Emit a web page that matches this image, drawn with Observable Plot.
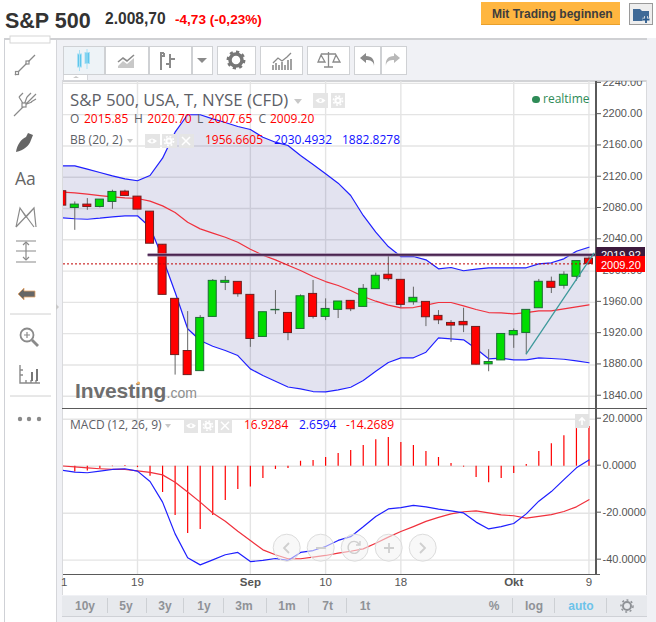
<!DOCTYPE html>
<html lang="de">
<head>
<meta charset="utf-8">
<title>S&amp;P 500</title>
<script src="https://cdn.jsdelivr.net/npm/d3@7"></script>
<script src="https://cdn.jsdelivr.net/npm/@observablehq/plot@0.6"></script>
<style>
html,body{margin:0;padding:0;background:#fff}
#root{position:relative;width:656px;height:622px;overflow:hidden;background:#fff;font-family:"Liberation Sans",Arial,sans-serif}
.abs,#root>div,#root>svg,#root>span{position:absolute}
.t{white-space:nowrap;line-height:1}
.os{font-family:"Open Sans",sans-serif}
.btn{background:#fff;border:1px solid #cfd1d4;box-sizing:border-box}
.box{background:#e5e5e5;width:14px;height:14px}
.bb{font-weight:bold;font-size:12px;color:#8f9297;transform:translateX(-50%);top:600px}
.sep{width:1px;height:15px;top:598px;background:#cdd0d4}
.plot{position:absolute;left:0}
</style>
</head>
<body>
<div id="root"></div>
<script>
// Day index: -1 is the partly hidden candle at the left edge, 41 is the last one
const days = d3.range(-1, 42);

const opens = [2102.1,2080.7,2085.0,2082.0,2088.4,2101.6,2095.2,2076.0,2033.7,1964.5,1897.8,1872.1,1941.4,1985.0,1986.2,1969.6,1915.8,1949.9,1946.5,1926.0,1970.8,1941.4,1950.4,1961.9,1954.2,1976.9,1995.3,1988.8,1960.2,1960.6,1942.7,1933.7,1935.0,1928.6,1880.7,1885.8,1917.9,1920.9,1952.5,1986.3,1981.2,1992.7,2015.85];
const closes = [2083.7,2085.0,2082.0,2091.4,2101.2,2096.1,2078.6,2035.0,1969.6,1892.6,1867.0,1940.1,1987.5,1987.5,1970.4,1913.2,1947.4,1950.4,1920.8,1967.8,1941.4,1951.6,1961.1,1951.2,1977.3,1994.0,1989.7,1956.8,1965.8,1941.0,1937.1,1930.3,1930.7,1880.3,1883.7,1919.6,1923.4,1950.4,1986.3,1978.6,1995.3,2012.8,2009.2];
const highs = [2102.1,2088.4,2092.7,2091.4,2103.4,2103.4,2095.2,2076.0,2033.7,1964.5,1948.2,1943.1,1989.2,1993.1,1986.2,1969.6,1947.4,1975.1,1946.5,1969.6,1988.0,1964.5,1961.1,1961.9,1982.8,1997.4,2020.0,1988.8,1979.4,1960.6,1949.5,1936.7,1952.5,1928.6,1899.5,1919.6,1926.0,1950.4,1989.3,1992.3,1999.1,2012.8,2020.7];
const lows = [2083.7,2052.1,2077.7,2080.7,2079.0,2095.8,2078.6,2035.0,1969.6,1867.0,1867.0,1872.1,1941.4,1975.1,1966.6,1902.5,1915.8,1944.4,1911.0,1926.0,1938.8,1936.7,1939.3,1948.2,1954.2,1976.9,1987.1,1952.8,1956.4,1929.0,1931.6,1908.9,1921.3,1879.8,1871.3,1885.8,1901.2,1893.1,1952.5,1971.3,1976.9,1987.1,2007.65];

const bbUpper = [2134.6,2134.6,2130.3,2126.1,2121.8,2118,2115.5,2122.2,2144.4,2177.6,2199.9,2199.9,2194.7,2190,2184.9,2181,2171.2,2164.8,2160.6,2147.8,2136.3,2124.4,2112.4,2096.7,2071.1,2049.7,2031.4,2018.6,2018.6,2014.4,2002.9,2004.6,2000.4,2002.4,2004.2,2004.2,2004.2,2004.2,2009.3,2010.6,2015.7,2025.4,2030.5];
const bbMiddle = [2100.9,2100,2098.3,2096.6,2094.9,2093.6,2092.8,2089.4,2083.4,2074.9,2062.5,2054,2048.5,2043.3,2036.9,2028,2020.3,2014.3,2007.5,2000.7,1993,1986.6,1981.6,1975.2,1967.5,1961.5,1956.4,1953,1953.4,1956.4,1959.8,1959.8,1955.6,1950.9,1947,1946.6,1945.3,1947,1949.2,1949.2,1951.7,1954.3,1956.7];
const bbLower = [2068.1,2066.9,2066.3,2067.6,2069.4,2070.7,2070.7,2056.1,2017,1973,1926.2,1911.2,1903.9,1898.4,1892,1875,1866.5,1859.2,1851.8,1849.5,1846,1845.6,1848.2,1851.5,1860.1,1872,1883.1,1889.1,1889.1,1896.3,1914.7,1913.4,1912.1,1900.6,1887.8,1888.6,1886.5,1886.5,1889.1,1888.2,1887.3,1885.3,1882.8];

const macdLine = [-1.7,-2.5,-2.8,-2.1,-1.4,-1.1,-2.1,-6.5,-15.3,-28.8,-39,-42,-39.9,-37.7,-36.7,-40.6,-40.1,-39.3,-40.1,-36.7,-35.9,-34.2,-31.6,-30,-25.8,-21.4,-18.2,-17.6,-16.7,-17.3,-18.3,-19,-19.9,-23.8,-26.7,-25.7,-24.4,-20.3,-14.9,-10.8,-5.7,-0.7,2.66];
const macdSignal = [0.1,-0.3,-0.7,-1.1,-1.4,-1.4,-2,-2.6,-3.7,-6.8,-11,-15.3,-19.9,-23.4,-27.7,-31.6,-35.6,-37.7,-39.4,-39.4,-38.7,-38,-37,-36.2,-35.2,-32.8,-30.2,-27.8,-25.7,-23.5,-21.8,-20.3,-19.4,-19,-19.9,-20.7,-21.1,-22.1,-21.4,-20.6,-19.3,-17.3,-14.27];
const macdHist = [null,-2.5,-2.1,-1.1,-0.2,0.3,-0.6,-4.3,-11.2,-21,-28.7,-27,-21,-14.6,-9.9,-8.9,-5.2,-1.4,-1,2.1,2.4,3.7,5.4,6.7,8.8,11.3,12.2,10.1,8.8,6.2,3.7,1.1,-0.4,-4.8,-7,-5.2,-3.1,0.7,6.2,9.6,13,16,16.93];

const priceTicks = [2240,2200,2160,2120,2080,2040,2000,1960,1920,1880,1840];
const macdTicks = [20,0,-20,-40];
const gridDays = [5,14,20,26,35,41];
const dateTicks = [-0.85,5,20,26,41];
const dateLabels = ["1","19","10","18","9"];
const monthTicks = [14,35];
const monthLabels = ["Sep","Okt"];
const resistance = 2020.7, lastPrice = 2009.2;
const resistanceSpan = [5.85,41.6];
const trendDays = [36,41.4], trendPrices = [1894.2,2022.9];
const xDomain = [-0.9,41.6];

const candles = days.map((d,k)=>({i:d,o:opens[k],c:closes[k],h:highs[k],l:lows[k]}));
const up = candles.filter(d=>d.c>=d.o), down = candles.filter(d=>d.c<d.o);
const bands = days.map((d,k)=>({i:d,u:bbUpper[k],m:bbMiddle[k],l:bbLower[k]}));
const macd = days.map((d,k)=>({i:d,m:macdLine[k],s:macdSignal[k],h:macdHist[k]}));

const root = document.getElementById("root");
function add(html){root.insertAdjacentHTML("beforeend",html);}
function div(x,y,w,h,bg,extra=""){add(`<div style="left:${x}px;top:${y}px;width:${w}px;height:${h}px;background:${bg};${extra}"></div>`);}
function txt(x,y,s,style,cls=""){add(`<span class="t ${cls}" style="left:${x}px;top:${y}px;${style}">${s}</span>`);}

// Page frame
div(4,38,652,584,"#f0f1f5");
div(4,38,643,2,"#cfd0d3");
div(4,40,1,582,"#cfd1d6");
div(5,40,52,582,"#fff");
div(56,40,1,582,"#d5d6da");
div(62,80,585,515,"#fff");
div(62,80,585,2,"#d2d3d6");
div(62,80,1,515,"#d9dadd");
div(646,80,1,515,"#d9dadd");

const baseStyle = {fontFamily:"'Liberation Sans',Arial,sans-serif",background:"transparent",color:"#555",overflow:"hidden"};
const gridColor = "#e4e4e4";

// Price pane
const main = Plot.plot({
  width:656,height:327,marginTop:0,marginBottom:0,marginLeft:63,marginRight:60,
  style:baseStyle,
  x:{domain:xDomain,axis:null},
  y:{domain:[1824.3,2242.4],axis:null},
  marks:[
    Plot.ruleY(priceTicks,{stroke:gridColor,strokeWidth:1.4}),
    Plot.ruleX(gridDays,{stroke:gridColor,strokeWidth:1.4}),
    Plot.areaY(bands,{x:"i",y1:"l",y2:"u",fill:"#3c3c96",fillOpacity:0.14,clip:true}),
    Plot.line(bands,{x:"i",y:"u",stroke:"#1f1fff",strokeWidth:1.2,clip:true}),
    Plot.line(bands,{x:"i",y:"l",stroke:"#1f1fff",strokeWidth:1.2,clip:true}),
    Plot.line(bands,{x:"i",y:"m",stroke:"#f0303c",strokeWidth:1.2,clip:true}),
    Plot.ruleX(candles,{x:"i",y1:"l",y2:"h",stroke:"#666",strokeWidth:1,clip:true}),
    Plot.rect(up,{x1:d=>d.i-0.32,x2:d=>d.i+0.32,y1:"o",y2:"c",fill:"#00dd00",stroke:"#1d6b35",strokeWidth:1,clip:true}),
    Plot.rect(down,{x1:d=>d.i-0.32,x2:d=>d.i+0.32,y1:"o",y2:"c",fill:"#ff0000",stroke:"#6e1f1f",strokeWidth:1,clip:true}),
    Plot.ruleY([lastPrice],{stroke:"#c00000",strokeWidth:1,strokeDasharray:"2,2"}),
    Plot.ruleY([resistance],{x1:resistanceSpan[0],x2:resistanceSpan[1],stroke:"#a08aa8",strokeWidth:3.2}),
    Plot.ruleY([resistance],{x1:resistanceSpan[0],x2:resistanceSpan[1],stroke:"#4a2450",strokeWidth:1.6}),
    Plot.line(trendDays.map((d,k)=>({i:d,p:trendPrices[k]})),{x:"i",y:"p",stroke:"#3f9a9c",strokeWidth:1.3}),
    Plot.axisY(priceTicks,{anchor:"right",label:null,tickSize:4,tickPadding:2,fontSize:11,tickFormat:d=>d.toFixed(2),dy:-1,textAnchor:"start"})
  ]
});
main.style.cssText += ";position:absolute;left:0;top:81px;";
root.appendChild(main);

// MACD pane
const lower = Plot.plot({
  width:656,height:187,marginTop:0,marginBottom:21,marginLeft:63,marginRight:60,
  style:baseStyle,
  x:{domain:xDomain,axis:null},
  y:{domain:[-46.1,24.55],axis:null},
  marks:[
    Plot.ruleY(macdTicks,{stroke:gridColor,strokeWidth:1.4}),
    Plot.ruleX(gridDays,{stroke:gridColor,strokeWidth:1.4}),
    Plot.ruleX(macd.filter(d=>d.h!==null),{x:"i",y1:0,y2:"h",stroke:"#ff0000",strokeWidth:1.2}),
    Plot.line(macd,{x:"i",y:"s",stroke:"#f0303c",strokeWidth:1.2,clip:true}),
    Plot.line(macd,{x:"i",y:"m",stroke:"#1f1fff",strokeWidth:1.2,clip:true}),
    Plot.axisY(macdTicks,{anchor:"right",label:null,tickSize:4,tickPadding:2,fontSize:11,tickFormat:d=>d.toFixed(4),dy:-1,textAnchor:"start"}),
    Plot.axisX(dateTicks,{anchor:"bottom",label:null,tickSize:0,tickPadding:3,fontSize:11.5,tickFormat:(d,k)=>dateLabels[dateTicks.indexOf(d)]}),
    Plot.axisX(monthTicks,{anchor:"bottom",label:null,tickSize:0,tickPadding:3,fontSize:11.5,fontWeight:"bold",tickFormat:(d,k)=>monthLabels[monthTicks.indexOf(d)]})
  ]
});
lower.style.cssText += ";position:absolute;left:0;top:408px;";
root.appendChild(lower);

// Pane borders
div(62,407.5,585,1.5,"#5a5a5a");
div(63,573.5,537,1.5,"#5a5a5a");
div(595,81,1.5,493,"#5a5a5a");

// Header
txt(5,9,"S&amp;P 500","font:bold 21.5px 'Liberation Sans';color:#333;");
txt(105,10,"2.008,70","font:bold 15.6px 'Liberation Sans';color:#333;");
txt(175,12,"-4,73 (-0,23%)","font:bold 13.6px 'Liberation Sans';color:#ff0000;");
div(481,2,139,23,"#ffb640","border-bottom:1px solid #e8a02c;box-sizing:border-box;");
txt(492,7,"Mit Trading beginnen","font:bold 12px 'Liberation Sans';color:#3d3d3d;");
div(629,3,24,22,"#eeeeee","border:1px solid #9a9a9a;box-sizing:border-box;");

// Toolbar
[[62.5,42.5,"#eef3f7"],[105,43.5,"#fff"],[148.5,43,"#fff"],[191.5,21,"#fff"],[217,38.5,"#fff"],[260,42.5,"#fff"],[307,42.5,"#fff"],[354,26.5,"#fff"],[380.5,26,"#fff"]]
 .forEach(([x,w,bg])=>add(`<div class="btn" style="left:${x}px;top:45.5px;width:${w}px;height:29px;background:${bg}"></div>`));
div(63,75,25,6,"#fff","border:1px solid #d5d6da;box-sizing:border-box;border-top:none;");

// Legends
txt(70,92,"S&amp;P 500, USA, T, NYSE (CFD)","font-size:16.8px;color:#5d6066;","os");
add(`<div style="left:294px;top:99px;border:4px solid transparent;border-top:5px solid #c8c8c8;"></div>`);
div(313,93,15,15,"#e5e5e5");div(331,93,14,15,"#e5e5e5");
const ohlc=[[70,"O","#5d6066"],[84,"2015.85","#f00"],[134,"H","#5d6066"],[147.3,"2020.70","#f00"],[197,"L","#5d6066"],[208,"2007.65","#f00"],[258.5,"C","#5d6066"],[270,"2009.20","#f00"]];
ohlc.forEach(([x,s,c])=>txt(x,113,s,`font-size:12px;color:${c};`,"os"));
txt(70,134,"BB (20, 2)","font-size:12px;color:#5d6066;","os");
add(`<div style="left:127px;top:139px;border:3.5px solid transparent;border-top:4.5px solid #c8c8c8;"></div>`);
[145,162,179].forEach(x=>div(x,134,14.5,14,"#e5e5e5"));
txt(205,134,"1956.6605","font-size:12px;color:#f00;","os");
txt(274,134,"2030.4932","font-size:12px;color:#11f;","os");
txt(342,134,"1882.8278","font-size:12px;color:#11f;","os");
add(`<div style="left:532px;top:95.5px;width:7.5px;height:7.5px;border-radius:50%;background:#2e8b57"></div>`);
txt(543,92.5,"realtime","font-size:12px;color:#2e8b57;","os");

txt(70,419,"MACD (12, 26, 9)","font-size:12px;color:#5d6066;","os");
add(`<div style="left:165px;top:424px;border:3.5px solid transparent;border-top:4.5px solid #c8c8c8;"></div>`);
[184,201,218].forEach(x=>div(x,419,14,13.5,"#e5e5e5"));
txt(244,419,"16.9284","font-size:12px;color:#f00;","os");
txt(299,419,"2.6594","font-size:12px;color:#11f;","os");
txt(346,419,"-14.2689","font-size:12px;color:#f00;","os");
div(575,414,14,14,"#e3e3e3");

// Price labels
add(`<div style="left:596px;top:246.5px;width:49px;height:10px;background:#3d1a3d;overflow:hidden"><span class="t" style="position:absolute;left:5px;top:2px;font:11px 'Liberation Sans';color:#fff">2019.92</span></div>`);
add(`<div style="left:596px;top:256px;width:49px;height:16px;background:#ff0000;overflow:hidden"><span class="t" style="position:absolute;left:5px;top:2.5px;font:11px 'Liberation Sans';color:#fff">2009.20</span></div>`);

// Watermark
txt(75,379,"Investing","font:bold 21px 'Liberation Sans';color:#6e6e6e;letter-spacing:-0.1px;");
txt(166.5,385,".com","font:14px 'Liberation Sans';color:#8e8e8e;");

// Bottom bar
div(62,595.5,585,21.5,"#e7e9ed","border-bottom:1px solid #cfd1d6;box-sizing:border-box;");
[["10y",85],["5y",126],["3y",165],["1y",204],["3m",244],["1m",287],["7t",327.7],["1t",365],["%",494],["log",534]]
  .forEach(([s,x])=>txt(x,600,s,"","bb"));
txt(581,600,"auto","color:#6cc3ea;","bb");
[106.7,145.7,183.3,222.7,265.7,308.3,346,512,554,606].forEach(x=>add(`<div class="sep" style="left:${x}px"></div>`));

// Toolbar, sidebar and navigation glyphs
const g="#8a8a8a";
const eye=(x,y)=>`<path d="M${x-5} ${y}q5-5 10 0q-5 5-10 0z" fill="#fff"/><circle cx="${x}" cy="${y}" r="1.4" fill="#e5e5e5"/>`;
const cog=(x,y)=>`<circle cx="${x}" cy="${y}" r="2.6" fill="none" stroke="#fff" stroke-width="2"/><circle cx="${x}" cy="${y}" r="4.6" fill="none" stroke="#fff" stroke-width="1.6" stroke-dasharray="1.8 1.8"/>`;
const cross=(x,y)=>`<path d="M${x-4} ${y-4}l8 8M${x+4} ${y-4}l-8 8" stroke="#fff" stroke-width="1.5"/>`;
add(`<svg width="656" height="622" viewBox="0 0 656 622" style="left:0;top:0;pointer-events:none" font-family="Liberation Sans">
 ${eye(320.5,100.5)}${cog(338,100.5)}
 ${eye(152,141)}${cog(169,141)}${cross(186,141)}
 ${eye(191,425.7)}${cog(208,425.7)}${cross(225,425.7)}
 <circle cx="138.5" cy="383" r="1.6" fill="#f0b060"/>
 <g fill="#5fc6ec" stroke="#a9e0f4"><rect x="77.5" y="54" width="4" height="13"/><rect x="85" y="52.5" width="4.5" height="11"/></g>
 <path d="M79.5 50v21M87 49v20" stroke="#a9e0f4" fill="none"/>
 <path d="M118 66l5-5 4 3 7-6v10h-16z" fill="#c8c8c8"/><path d="M118 62l5-4 4 3 7-6" stroke="${g}" stroke-width="1.6" fill="none"/>
 <path d="M161 70v-14h3v-3M164 53h-3v6M170 54v14M170 59h5M170 64h-4" stroke="${g}" stroke-width="2" fill="none"/>
 <path d="M197 58l5 5 5-5z" fill="${g}"/>
 <circle cx="236" cy="60" r="6" fill="none" stroke="#777" stroke-width="3.5"/><circle cx="236" cy="60" r="8.2" fill="none" stroke="#777" stroke-width="2.5" stroke-dasharray="3.2 3.2"/>
 <path d="M273 70v-5M276 70v-7M279 70v-5M282 70v-8M285 70v-5M288 70v-10M291 70v-11" stroke="${g}" stroke-width="1.6"/><path d="M273 63l5-5 4 3 5-4 4-4" stroke="${g}" fill="none" stroke-width="1.3"/>
 <path d="M321 54h15M328.5 52v15M324 67h9M321 55l-3 7h7zM336 55l-3 7h7z" stroke="${g}" fill="none" stroke-width="1.3"/>
 <path d="M374 66c0-5-4-6-8-6v3l-6-5 6-5v3c6 0 9 4 8 10z" fill="${g}"/>
 <path d="M386 66c0-5 4-6 8-6v3l6-5-6-5v3c-6 0-9 4-8 10z" fill="#b8b8b8"/>
 <path d="M633 9h7l2 2h7v10h-16z" fill="#3f6a97"/><path d="M646 16v7M642.5 19.5h7" stroke="#eee" stroke-width="3.5"/><path d="M646 16v7M642.5 19.5h7" stroke="#2a5a8c" stroke-width="1.8"/>
 <rect x="10" y="36" width="40" height="7" fill="#fff" stroke="#d5d5d5"/>
 <g stroke="${g}" fill="none" stroke-width="1.2">
  <path d="M15 75l20-20" /><rect x="15.5" y="71.5" width="3" height="3" fill="#fff"/><rect x="26" y="61" width="3" height="3" fill="#fff"/>
  <path d="M14 116l22-22M24 105l-5-8M24 105l8-3M19 97l4-4M31 102l5-3M24 105l3-8M27 97l4-4"/><rect x="22" y="103" width="4" height="4" fill="#fff"/>
  <path d="M16 251h20M16 262h20M16 241h20M26 243v16"/><path d="M23 245l3-3 3 3M23 257l3 3 3-3"/>
  <path d="M16 227l4-19 6 9 8-9 2 19M20 208l14 19M34 208l-18 19"/>
  <circle cx="27" cy="335" r="6.5" stroke-width="1.8"/><path d="M32 340l6 6" stroke-width="2.8"/><path d="M24 335h6M27 332v6"/>
  <path d="M20 365v18h20M23 370h-3M23 375h-3M26 383v-3M31 383v-3M36 383v-3" stroke-width="1.4"/>
 </g>
 <path d="M16 152c1-7 5-13 10-15l2-4 5 2-2 5c-2 6-7 10-15 12z" fill="#666"/>
 <text x="15" y="185" font-size="17.5" fill="#666" font-family="Open Sans">Aa</text>
 <path d="M18 294l6-6v3h11v6H24v3z" fill="#666" stroke="#e6a76d" stroke-width="0.8"/>
 <path d="M10 314h41M10 396h41" stroke="#d0d0d0"/>
 <path d="M31 372h2v9h-2zM36 369h2v12h-2z" fill="#777"/>
 <circle cx="20" cy="419" r="2.2" fill="#8a8a8a"/><circle cx="29" cy="419" r="2.2" fill="#8a8a8a"/><circle cx="39" cy="419" r="2.2" fill="#8a8a8a"/>
 <path d="M582 425v-6M579 421l3-3 3 3" stroke="#fff" stroke-width="1.6" fill="none"/>
 <circle cx="627" cy="606" r="4" fill="none" stroke="#8f9297" stroke-width="2"/><circle cx="627" cy="606" r="6" fill="none" stroke="#8f9297" stroke-width="1.5" stroke-dasharray="2 2.5"/>
 <g stroke="#dcdcdc" fill="#f3f3f3" fill-opacity="0.55">
  <circle cx="286.7" cy="547.7" r="13.5"/><circle cx="320.7" cy="547.7" r="13.5"/><circle cx="354.7" cy="547.7" r="13.5"/><circle cx="388.7" cy="547.7" r="13.5"/><circle cx="422.7" cy="547.7" r="13.5"/>
 </g>
 <g stroke="#cfcfcf" stroke-width="1.8" fill="none">
  <path d="M289 543l-5 5 5 5M316 548h10M384 548h10M389 543v10M420 543l5 5-5 5"/>
  <path d="M359 544a6 6 0 1 0 1 4M360 541v4h-4" stroke-width="1.4"/>
 </g>
 <path d="M59 307l-3-3 0 6z" fill="#c8c8c8"/>
 <path d="M73 78l3-2 3 2z" fill="#c8c8c8"/>
</svg>`);
</script>
</body>
</html>
